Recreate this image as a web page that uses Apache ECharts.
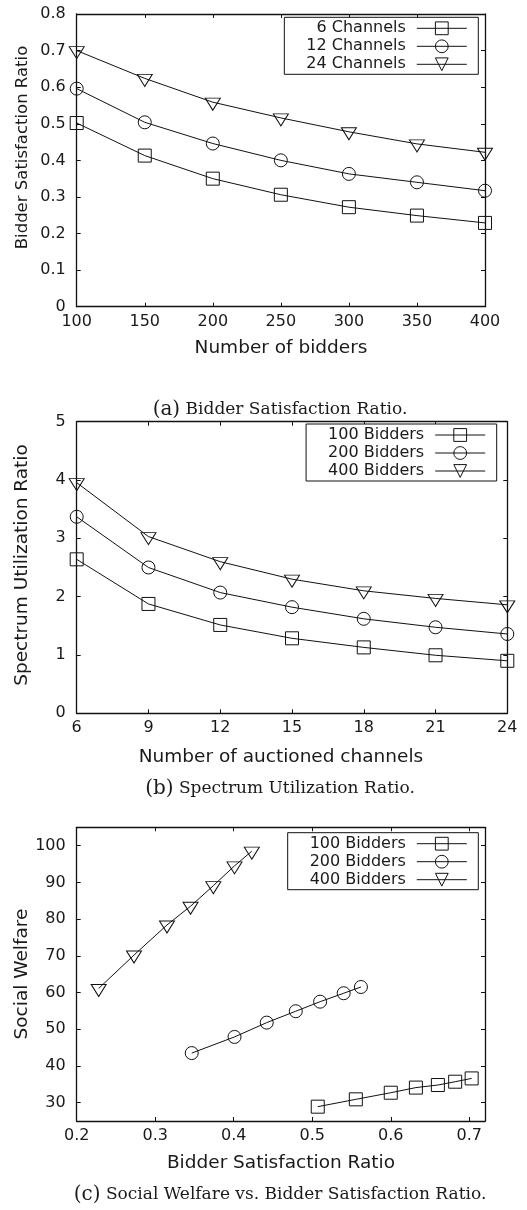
<!DOCTYPE html>
<html>
<head>
<meta charset="utf-8">
<script src="https://cdn.jsdelivr.net/npm/echarts@6/dist/echarts.min.js"></script>
<style>
  html, body { margin: 0; padding: 0; background: #fff; }
  #chart { width: 527px; height: 1210px; }
</style>
</head>
<body>
<div id="chart"></div>
<script>
// (a) Bidder satisfaction ratio vs number of bidders
const bidders = [100, 150, 200, 250, 300, 350, 400];
const bsr6Channels = [0.502, 0.413, 0.350, 0.306, 0.272, 0.249, 0.229];
const bsr12Channels = [0.596, 0.504, 0.446, 0.400, 0.363, 0.340, 0.317];
const bsr24Channels = [0.700, 0.624, 0.559, 0.516, 0.478, 0.445, 0.422];
const ticksBiddersX = [100, 150, 200, 250, 300, 350, 400];
const ticksRatioY = [0, 0.1, 0.2, 0.3, 0.4, 0.5, 0.6, 0.7, 0.8];

// (b) Spectrum utilization ratio vs number of auctioned channels
const channels = [6, 9, 12, 15, 18, 21, 24];
const sur100Bidders = [2.64, 1.875, 1.515, 1.286, 1.13, 0.995, 0.90];
const sur200Bidders = [3.37, 2.50, 2.07, 1.82, 1.62, 1.475, 1.36];
const sur400Bidders = [3.955, 3.03, 2.60, 2.30, 2.10, 1.97, 1.86];
const ticksChannelsX = [6, 9, 12, 15, 18, 21, 24];
const ticksUtilY = [0, 1, 2, 3, 4, 5];

// (c) Social welfare vs bidder satisfaction ratio
const sw100Ratio = [0.507, 0.5555, 0.600, 0.632, 0.660, 0.682, 0.703];
const sw100Welfare = [28.9, 30.9, 32.7, 34.1, 34.8, 35.7, 36.6];
const sw200Ratio = [0.3465, 0.401, 0.442, 0.479, 0.510, 0.540, 0.562];
const sw200Welfare = [43.5, 47.9, 51.8, 54.9, 57.5, 59.8, 61.5];
const sw400Ratio = [0.228, 0.273, 0.315, 0.345, 0.374, 0.401, 0.423];
const sw400Welfare = [61.1, 70.2, 78.4, 83.5, 89.1, 94.5, 98.5];
const ticksRatioX = [0.2, 0.3, 0.4, 0.5, 0.6, 0.7];
const ticksWelfareY = [30, 40, 50, 60, 70, 80, 90, 100];

const SANS = 'DejaVu Sans';
const SERIF = 'DejaVu Serif';
const INK = '#1a1a1a';
const LINE = '#111';
const CLEAR = 'rgba(0,0,0,0)';

function pairs(xs, ys) { return xs.map((x, i) => [x, ys[i]]); }

function frameAxes(gridIndex, min, max, ticks, isX) {
  const base = {
    type: 'value', gridIndex, min, max,
    splitLine: { show: false },
    axisLine: { show: true, onZero: false, lineStyle: { color: LINE, width: 1.3 } },
    axisTick: { show: true, inside: true, length: 4, customValues: ticks, lineStyle: { color: LINE, width: 1 } }
  };
  const label = {
    show: true, customValues: ticks, fontFamily: SANS, fontSize: 16, color: INK,
    margin: isX ? 7 : 11
  };
  return [
    Object.assign({}, base, { position: isX ? 'bottom' : 'left', axisLabel: label }),
    Object.assign({}, base, { position: isX ? 'top' : 'right', axisLabel: { show: false } })
  ];
}

const MARKS = {
  square: { symbol: 'rect', symbolSize: 13 },
  circle: { symbol: 'circle', symbolSize: 13 },
  triangle: { symbol: 'triangle', symbolSize: [15, 12], symbolRotate: 180, symbolOffset: [0, 2] }
};

function lineSeries(name, data, mark, axisIdx) {
  return Object.assign({
    type: 'line', name, data,
    xAxisIndex: axisIdx, yAxisIndex: axisIdx,
    lineStyle: { color: LINE, width: 1 },
    itemStyle: { color: CLEAR, borderColor: LINE, borderWidth: 1 },
    emphasis: { disabled: true },
    z: 3
  }, MARKS[mark]);
}

function legendBox(names, right, top) {
  return {
    orient: 'vertical', align: 'right', right, top,
    padding: [3, 11, 2, 22], itemWidth: 50, itemHeight: 16, itemGap: 2,
    borderColor: LINE, borderWidth: 1, backgroundColor: '#fff',
    selectedMode: false,
    itemStyle: { color: CLEAR, borderColor: LINE, borderWidth: 1 },
    lineStyle: { color: LINE, width: 1 },
    textStyle: { fontFamily: SANS, fontSize: 16, color: INK, lineHeight: 16, padding: [0, 6, 0, 0] },
    data: names, z: 10
  };
}

function text(str, x, y, size, family, rotation) {
  return {
    type: 'text', x, y, rotation: rotation || 0, z: 20,
    style: { text: str, fontSize: size, fontFamily: family, fill: INK, align: 'center', verticalAlign: 'middle' }
  };
}

function caption(tag, str, y) {
  return {
    type: 'text', x: 280, y, z: 20,
    style: {
      text: '{t|' + tag + '} ' + str,
      fontSize: 17, fontFamily: SERIF, fill: INK, align: 'center', verticalAlign: 'middle',
      rich: { t: { fontSize: 20, fontFamily: SERIF, fill: INK } }
    }
  };
}

const xAxis = [].concat(
  frameAxes(0, 100, 400, ticksBiddersX, true),
  frameAxes(1, 6, 24, ticksChannelsX, true),
  frameAxes(2, 0.2, 0.72, ticksRatioX, true)
);
const yAxis = [].concat(
  frameAxes(0, 0, 0.8, ticksRatioY, false),
  frameAxes(1, 0, 5, ticksUtilY, false),
  frameAxes(2, 25, 105, ticksWelfareY, false)
);

const option = {
  animation: false,
  backgroundColor: '#fff',
  grid: [
    { left: 76.7, top: 14, width: 408.3, height: 292.7 },
    { left: 76.7, top: 421.7, width: 430.6, height: 291.6 },
    { left: 76.7, top: 827.3, width: 408.3, height: 293.7 }
  ],
  xAxis, yAxis,
  legend: [
    legendBox(['6 Channels', '12 Channels', '24 Channels'], 48.7, 17.3),
    legendBox(['100 Bidders', '200 Bidders', '400 Bidders'], 30.3, 424),
    legendBox(['100 Bidders', '200 Bidders', '400 Bidders'], 48.7, 832.7)
  ],
  series: [
    lineSeries('6 Channels', pairs(bidders, bsr6Channels), 'square', 0),
    lineSeries('12 Channels', pairs(bidders, bsr12Channels), 'circle', 0),
    lineSeries('24 Channels', pairs(bidders, bsr24Channels), 'triangle', 0),
    lineSeries('100 Bidders', pairs(channels, sur100Bidders), 'square', 2),
    lineSeries('200 Bidders', pairs(channels, sur200Bidders), 'circle', 2),
    lineSeries('400 Bidders', pairs(channels, sur400Bidders), 'triangle', 2),
    lineSeries('100 Bidders', pairs(sw100Ratio, sw100Welfare), 'square', 4),
    lineSeries('200 Bidders', pairs(sw200Ratio, sw200Welfare), 'circle', 4),
    lineSeries('400 Bidders', pairs(sw400Ratio, sw400Welfare), 'triangle', 4)
  ],
  graphic: [
    text('Bidder Satisfaction Ratio', 22.5, 147.5, 16.5, SANS, Math.PI / 2),
    text('Number of bidders', 281, 348, 18.5, SANS),
    caption('(a)', 'Bidder Satisfaction Ratio.', 410),
    text('Spectrum Utilization Ratio', 22.5, 565, 18.5, SANS, Math.PI / 2),
    text('Number of auctioned channels', 281, 756.7, 18.5, SANS),
    caption('(b)', 'Spectrum Utilization Ratio.', 788.3),
    text('Social Welfare', 22.5, 974, 18.5, SANS, Math.PI / 2),
    text('Bidder Satisfaction Ratio', 281, 1162.7, 18.5, SANS),
    caption('(c)', 'Social Welfare vs. Bidder Satisfaction Ratio.', 1195)
  ]
};

const chart = echarts.init(document.getElementById('chart'), null, { renderer: 'canvas' });
chart.setOption(option);
</script>
</body>
</html>
